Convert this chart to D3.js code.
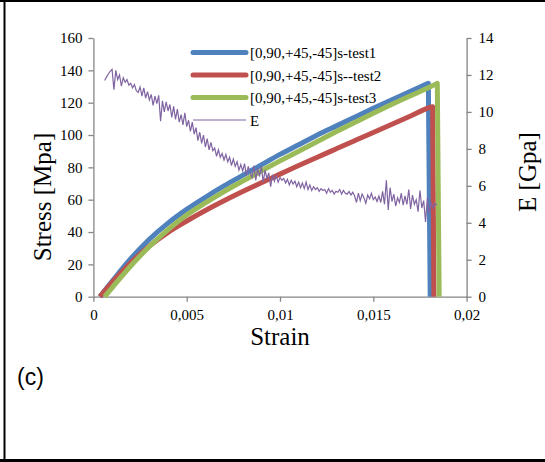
<!DOCTYPE html>
<html>
<head>
<meta charset="utf-8">
<script src="https://cdn.jsdelivr.net/npm/d3@7"></script>
<style>
  body { margin: 0; background: #fff; }
  text { font-family: "Liberation Serif", "Times New Roman", serif; fill: #000; }
</style>
</head>
<body>
<div id="chart"></div>
<script>
// stress-strain curves
const test1Strain = [0.00035, 0.001, 0.002, 0.003, 0.004, 0.005, 0.006, 0.007, 0.008, 0.009, 0.010,
                     0.011, 0.012, 0.013, 0.014, 0.015, 0.016, 0.017, 0.01795];
const test1Stress = [0, 9.5, 23.5, 35.5, 45.5, 54, 61.5, 68.5, 75, 81.5, 88,
                     94, 100, 105.5, 111, 116.5, 121.8, 127, 132];
const test1Break = 0.01805;

const test2Strain = [0.00035, 0.001, 0.002, 0.003, 0.004, 0.005, 0.006, 0.007, 0.008, 0.009, 0.010,
                     0.011, 0.012, 0.013, 0.014, 0.015, 0.016, 0.017, 0.018, 0.01818];
const test2Stress = [0, 8.8, 21, 31.3, 39.8, 46.8, 53.3, 59.3, 65, 70.5, 75.8,
                     81.1, 86.3, 91.4, 96.5, 101.6, 106.7, 111.8, 116.9, 117.5];
const test2Break = 0.01825;

const test3Strain = [0.0006, 0.001, 0.002, 0.003, 0.004, 0.005, 0.006, 0.007, 0.008, 0.009, 0.010,
                     0.011, 0.012, 0.013, 0.014, 0.015, 0.016, 0.017, 0.018, 0.01843];
const test3Stress = [0, 5.5, 19, 31, 41.5, 50.5, 58, 65, 71.5, 77.8, 84,
                     90, 96, 102, 107.8, 113.5, 119, 124.3, 129.5, 132];
const test3Break = 0.01853;

// modulus E [GPa], sampled every 0.0001 strain from 0.0006
const eStart = 0.0006, eStep = 0.0001;
const eValues = [
  11.70, 11.88, 12.05, 12.20,
  12.30, 11.20, 12.25, 11.75, 12.00, 11.40, 11.85, 11.60, 11.75, 11.45,
  11.55, 11.30, 11.48, 11.15, 11.05, 11.35, 10.85, 11.30, 10.75, 11.10,
  10.65, 10.95, 10.35, 10.85, 10.45, 10.90, 9.50, 10.60, 10.00, 10.55,
  10.05, 10.40, 9.70, 10.30, 9.60, 10.15, 9.45, 9.85, 9.30, 9.95,
  9.20, 9.55, 8.95, 9.45, 8.80, 9.15, 8.45, 8.90, 8.30, 8.75,
  8.10, 8.55, 7.95, 8.35, 7.90, 8.05, 7.60, 7.95, 7.55, 7.75,
  7.40, 7.70, 7.30, 7.55, 7.10, 7.45, 7.05, 7.30, 6.85, 7.15,
  6.80, 7.20, 6.55, 7.05, 6.70, 6.45, 7.10, 6.30, 6.95, 6.50,
  7.05, 6.20, 6.85, 6.40, 6.70, 5.95, 6.60, 6.25, 6.55, 6.20,
  6.45, 6.30, 6.40, 6.15, 6.35, 6.05, 6.30, 6.10, 6.25, 5.95,
  6.20, 5.90, 6.15, 5.85, 6.20, 5.80, 6.05, 5.75, 5.95, 5.80,
  5.90, 5.70, 5.85, 5.75, 5.80, 5.60, 5.85, 5.65, 5.75, 5.55,
  5.70, 5.65, 5.80, 5.55, 5.75, 5.60, 5.55, 5.70, 5.50, 5.65,
  5.45, 5.10, 5.60, 5.20, 5.55, 5.35, 5.05, 5.50, 5.30, 5.60,
  5.25, 5.40, 5.15, 5.45, 5.10, 5.70, 5.00, 6.30, 4.70, 5.90,
  5.15, 5.55, 4.90, 5.35, 5.10, 5.60, 4.95, 5.45, 5.00, 5.80,
  4.75, 5.50, 5.00, 5.25, 4.60, 5.75, 4.80, 5.20, 4.05, 5.35,
  4.50, 5.10, 4.80, 5.05, 4.95
];

const strainTicks = [0, 0.005, 0.01, 0.015, 0.02];
const stressTicks = [0, 20, 40, 60, 80, 100, 120, 140, 160];
const eTicks = [0, 2, 4, 6, 8, 10, 12, 14];
const legendNames = ["[0,90,+45,-45]s-test1", "[0,90,+45,-45]s--test2", "[0,90,+45,-45]s-test3", "E"];
const colors = ["#4F81BD", "#C0504D", "#9BBB59", "#8064A2"];

const width = 545, height = 462;
const plot = {left: 93.4, right: 466.6, top: 38, bottom: 296.7};
const axisColor = "#868686";
const serif = "'Liberation Serif', 'Times New Roman', serif";

var svg = d3.select("#chart").append("svg")
    .attr("width", width)
    .attr("height", height);

// outer frame (left, top, bottom)
svg.append("line").attr("x1", 4.5).attr("x2", 4.5).attr("y1", 0).attr("y2", height)
   .attr("stroke", "#000").attr("stroke-width", 2);
svg.append("line").attr("x1", 0).attr("x2", width).attr("y1", 1).attr("y2", 1)
   .attr("stroke", "#000").attr("stroke-width", 2);
svg.append("line").attr("x1", 0).attr("x2", width).attr("y1", 460.5).attr("y2", 460.5)
   .attr("stroke", "#000").attr("stroke-width", 3);

var xScale = d3.scaleLinear().domain([0, 0.02]).range([plot.left, plot.right]);
var yScale = d3.scaleLinear().domain([0, 160]).range([plot.bottom, plot.top]);
var eScale = d3.scaleLinear().domain([0, 14]).range([plot.bottom, plot.top]);

function styleAxis(g) {
  g.attr("font-family", null);
  g.select(".domain").attr("stroke", axisColor).attr("stroke-width", 1.3);
  g.selectAll(".tick line").attr("stroke", axisColor).attr("stroke-width", 1.3);
  g.selectAll(".tick text").style("font-family", serif).style("font-size", "15px").attr("fill", "#000");
}

svg.append("g")
   .attr("transform", "translate(0," + plot.bottom + ")")
   .call(d3.axisBottom(xScale).tickValues(strainTicks).tickSize(5).tickSizeOuter(0).tickPadding(8)
         .tickFormat(d => String(d).replace(".", ",")))
   .call(styleAxis);

svg.append("g")
   .attr("transform", "translate(" + plot.left + ",0)")
   .call(d3.axisLeft(yScale).tickValues(stressTicks).tickSize(5).tickSizeOuter(0).tickPadding(6))
   .call(styleAxis);

svg.append("g")
   .attr("transform", "translate(" + plot.right + ",0)")
   .call(d3.axisRight(eScale).tickValues(eTicks).tickSize(5).tickSizeOuter(0).tickPadding(7))
   .call(styleAxis);

// stress curves, drawn in the series order
const curve = d3.line()
    .x(d => xScale(d[0]))
    .y(d => yScale(d[1]))
    .curve(d3.curveMonotoneX);

const series = [
  {strain: test1Strain, stress: test1Stress, brk: test1Break, color: colors[0]},
  {strain: test2Strain, stress: test2Stress, brk: test2Break, color: colors[1]},
  {strain: test3Strain, stress: test3Stress, brk: test3Break, color: colors[2]}
];

series.forEach(s => {
  const pts = s.strain.map((v, i) => [v, s.stress[i]]);
  svg.append("path")
     .attr("d", curve(pts) + "L" + xScale(s.brk) + "," + yScale(0))
     .attr("fill", "none")
     .attr("stroke", s.color)
     .attr("stroke-width", 5)
     .attr("stroke-linejoin", "round");
});

const eLine = d3.line()
    .x(d => xScale(d[0]))
    .y(d => eScale(d[1]));

const ePts = eValues.map((v, i) => [eStart + i * eStep, v]);
svg.append("path")
   .datum(ePts)
   .attr("fill", "none")
   .attr("stroke", colors[3])
   .attr("stroke-width", 1.2)
   .attr("d", eLine);

// legend
const legendY = [52.5, 75, 97.5, 120];
legendNames.forEach((name, i) => {
  svg.append("line")
     .attr("x1", 193).attr("x2", 246)
     .attr("y1", legendY[i]).attr("y2", legendY[i])
     .attr("stroke", colors[i])
     .attr("stroke-width", i < 3 ? 5 : 1.2)
     .attr("stroke-linecap", i < 3 ? "round" : "butt");
  svg.append("text")
     .attr("x", 250)
     .attr("y", legendY[i] + 5.5)
     .style("font-family", serif)
     .style("font-size", "15px")
     .text(name);
});

// axis titles
svg.append("text")
   .attr("text-anchor", "middle")
   .attr("x", xScale(0.01))
   .attr("y", 345)
   .style("font-size", "25px")
   .text("Strain");

svg.append("text")
   .attr("text-anchor", "middle")
   .attr("transform", "translate(51,197) rotate(-90)")
   .style("font-size", "25px")
   .text("Stress [Mpa]");

svg.append("text")
   .attr("text-anchor", "middle")
   .attr("transform", "translate(536,172) rotate(-90)")
   .style("font-size", "25px")
   .text("E [Gpa]");

svg.append("text")
   .attr("x", 17)
   .attr("y", 385)
   .style("font-family", "'Liberation Sans', Arial, sans-serif")
   .style("font-size", "23px")
   .text("(c)");
</script>
</body>
</html>
